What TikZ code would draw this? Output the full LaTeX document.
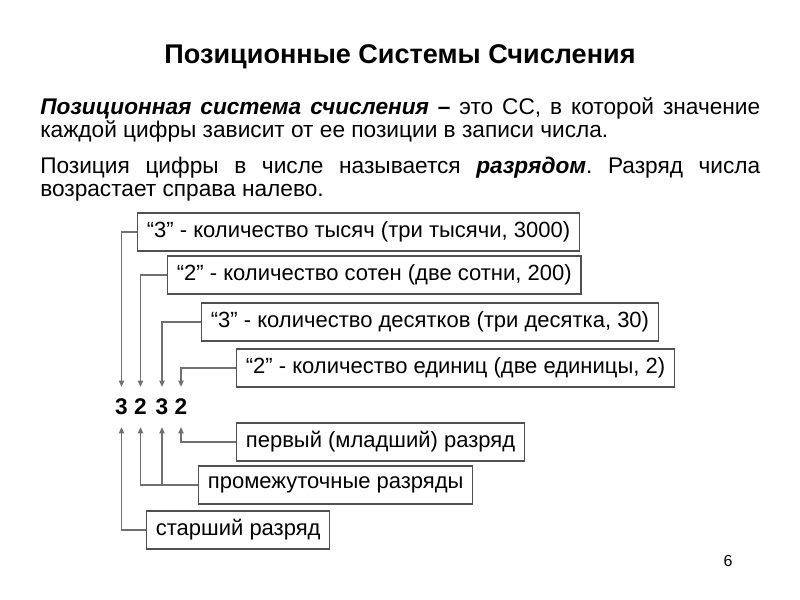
\documentclass[tikz,border=0pt]{standalone}
\usepackage{fontspec}
\setmainfont{Liberation Sans}
\usepackage{xcolor}
\usetikzlibrary{arrows.meta, calc}
\definecolor{boxgray}{HTML}{505050}
\definecolor{linegray}{HTML}{707070}

\begin{document}
\frenchspacing
\begin{tikzpicture}[x=0.75pt, y=-0.75pt,
    numbox/.style={draw=boxgray, line width=0.8pt, anchor=west, inner xsep=7pt,
                   minimum height=28.5pt, font=\fontsize{16.5}{18}\selectfont},
    digit/.style={inner sep=0pt, minimum height=30pt, font=\fontsize{17}{18}\selectfont\bfseries},
    conn/.style={linegray, line width=0.8pt, -{Triangle[length=4.5pt, width=4pt]}}]

      \useasboundingbox (0,0) rectangle (800,600);

      % title and text
      \node[font=\fontsize{20.3}{24}\selectfont\bfseries] (title) at (400,57) {Позиционные Системы Счисления};

      \node[anchor=north west, inner sep=0pt, text width=540pt, align=justify,
            font=\fontsize{17}{17.4}\selectfont] (text) at (40,97) {%
        \textbf{\textit{Позиционная система счисления} –} это СС, в которой значение\linebreak
        каждой цифры зависит от ее позиции в записи числа.\par\vspace{9.5pt}
        Позиция цифры в числе называется \textbf{\textit{разрядом}}. Разряд числа\linebreak
        возрастает справа налево.};

      % digits of the number
      \foreach \i/\x/\d in {1/121.5/3, 2/140.5/2, 3/162/3, 4/181/2}{
        \node[digit] (d\i) at (\x,407) {\d};
      }

      % upper boxes
      \node[numbox] (b1) at (137,232) {“3” - количество тысяч (три тысячи, 3000)};
      \node[numbox] (b2) at (167,275) {“2” - количество сотен (две сотни, 200)};
      \node[numbox] (b3) at (201,322) {“3” - количество десятков (три десятка, 30)};
      \node[numbox] (b4) at (236,368) {“2” - количество единиц (две единицы, 2)};

      % lower boxes
      \node[numbox] (c1) at (236,442) {первый (младший) разряд};
      \node[numbox] (c2) at (198,485) {промежуточные разряды};
      \node[numbox] (c3) at (146,530) {старший разряд};

      \foreach \i in {1,...,4}{
        \draw[conn] (b\i.west) -| (d\i.north);
      }

      \draw[conn] (c1.west) -| (d4.south);
      \draw[conn] (c2.west) -| (d2.south);
      \coordinate (mid) at (d3.south |- c2.west);
      \draw[conn] (mid) -- (d3.south);
      \draw[conn] (c3.west) -| (d1.south);

      \node[font=\fontsize{12}{14}\selectfont] (page) at (728,561) {6};

    \end{tikzpicture}
\end{document}
